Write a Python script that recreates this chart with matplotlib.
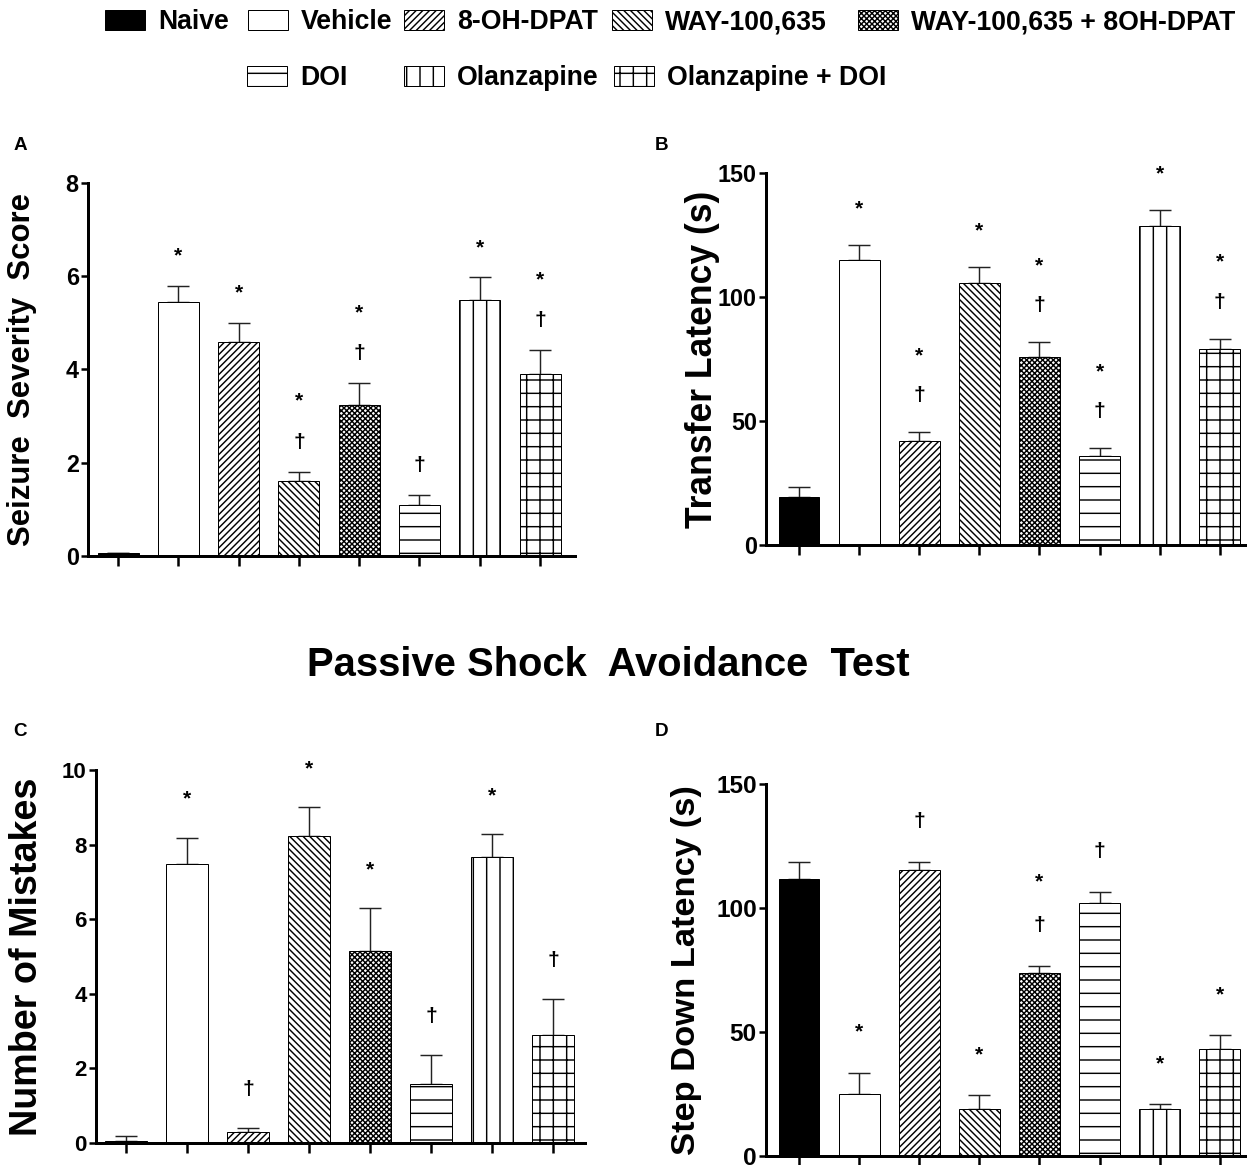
import numpy as np
import matplotlib
matplotlib.use("Agg")
import matplotlib.pyplot as plt
from matplotlib.patches import Patch

# ---------------- data ----------------
groups = ["Naive", "Vehicle", "8-OH-DPAT", "WAY-100,635",
          "WAY-100,635 + 8OH-DPAT", "DOI", "Olanzapine", "Olanzapine + DOI"]

seizure_mean = [0.07, 5.45, 4.6, 1.6, 3.23, 1.1, 5.5, 3.9]
seizure_sem = [0.0, 0.35, 0.4, 0.21, 0.47, 0.21, 0.48, 0.52]
seizure_sig = ["", "*", "*", "*†", "*†", "†", "*", "*†"]

transfer_mean = [19.2, 115.0, 42.1, 105.7, 75.8, 36.0, 128.6, 79.0]
transfer_sem = [4.1, 6.0, 3.5, 6.2, 6.0, 3.1, 6.4, 4.2]
transfer_sig = ["", "*", "*†", "*", "*†", "*†", "*", "*†"]

mistakes_mean = [0.06, 7.47, 0.3, 8.24, 5.14, 1.58, 7.68, 2.9]
mistakes_sem = [0.12, 0.72, 0.11, 0.77, 1.15, 0.78, 0.6, 0.96]
mistakes_sig = ["", "*", "†", "*", "*", "†", "*", "†"]

stepdown_mean = [111.8, 25.2, 115.2, 18.8, 73.6, 101.9, 18.8, 43.0]
stepdown_sem = [6.6, 8.4, 3.2, 5.6, 3.2, 4.7, 2.0, 5.6]
stepdown_sig = ["", "*", "†", "*", "*†", "†", "*", "*"]

# ---------------- style ----------------
DPI = 80
PT = 72.0 / DPI  # points per pixel
FONT = ["Liberation Sans", "DejaVu Sans"]
plt.rcParams["hatch.linewidth"] = 1.3
plt.rcParams["font.family"] = FONT

facecolors = ["black", "white", "white", "white", "white", "white", "white", "white"]
hatches = [None, None, "////", "\\\\\\\\", "xxxxx", "-", "|", "+"]

fig = plt.figure(figsize=(1257 / DPI, 1165 / DPI), dpi=DPI)
W, H = 1257.0, 1165.0


def axes_px(left, right, top, bottom):
    return fig.add_axes([left / W, 1 - bottom / H, (right - left) / W, (bottom - top) / H])


panels = [
    dict(box=(88, 575, 183, 556), mean=seizure_mean, sem=seizure_sem, sig=seizure_sig,
         ylim=8, yticks=[0, 2, 4, 6, 8], xlim=(-0.5, 7.58),
         ylabel="Seizure  Severity  Score", ylfs=28, tfs=21, lab_x=-0.135,
         off=(24, 65), letter="A", lpos=(20, 145)),
    dict(box=(766, 1245, 173, 545), mean=transfer_mean, sem=transfer_sem, sig=transfer_sig,
         ylim=150, yticks=[0, 50, 100, 150], xlim=(-0.55, 7.42),
         ylabel="Transfer Latency (s)", ylfs=32, tfs=21, lab_x=-0.133,
         off=(31, 71), letter="B", lpos=(662, 145)),
    dict(box=(96, 585, 770, 1143), mean=mistakes_mean, sem=mistakes_sem, sig=mistakes_sig,
         ylim=10, yticks=[0, 2, 4, 6, 8, 10], xlim=(-0.49, 7.52),
         ylabel="Number of Mistakes", ylfs=34, tfs=20, lab_x=-0.141,
         off=(33, 73), letter="C", lpos=(20, 732)),
    dict(box=(766, 1245, 784, 1156), mean=stepdown_mean, sem=stepdown_sem, sig=stepdown_sig,
         ylim=150, yticks=[0, 50, 100, 150], xlim=(-0.55, 7.42),
         ylabel="Step Down Latency (s)", ylfs=31, tfs=22, lab_x=-0.167,
         off=(35, 78), letter="D", lpos=(662, 732)),
]

x = np.arange(len(groups))
for p in panels:
    ax = axes_px(*p["box"])
    mean = np.array(p["mean"])
    sem = np.array(p["sem"])
    ax.errorbar(x, mean, yerr=[np.zeros_like(sem), sem], fmt="none",
                ecolor="#222222", elinewidth=1.3, capsize=11 * PT, capthick=1.3, zorder=1)
    bars = ax.bar(x, mean, width=0.68, color=facecolors, edgecolor="black",
                  linewidth=0.9, zorder=2)
    for b, h in zip(bars, hatches):
        if h:
            b.set_hatch(h)
    # significance markers: dagger lower, asterisk upper
    for xi, top, s in zip(x, mean + sem, p["sig"]):
        syms = list(s)[::-1]
        for k, sym in enumerate(syms):
            ax.annotate(sym, xy=(xi, top), xytext=(0, p["off"][k] * PT),
                        textcoords="offset points", ha="center", va="baseline",
                        fontsize=19, fontweight="bold", zorder=3)
    ax.set_xlim(*p["xlim"])
    ax.set_ylim(0, p["ylim"])
    ax.set_yticks(p["yticks"])
    ax.set_yticklabels([str(t) for t in p["yticks"]], fontweight="bold",
                       fontsize=p["tfs"])
    ax.set_xticks(x)
    ax.set_xticklabels([])
    for side in ("top", "right"):
        ax.spines[side].set_visible(False)
    for side in ("left", "bottom"):
        ax.spines[side].set_linewidth(3 * PT)
    ax.tick_params(axis="y", length=7 * PT, width=2.5 * PT, pad=2)
    ax.tick_params(axis="x", length=10 * PT, width=2.5 * PT)
    ax.set_ylabel(p["ylabel"], fontsize=p["ylfs"], fontweight="bold", va="center")
    ax.yaxis.set_label_coords(p["lab_x"], 0.5)
    fig.text(p["lpos"][0] / W, 1 - p["lpos"][1] / H, p["letter"], ha="center",
             va="center", fontsize=17, fontweight="bold")

# title between rows
fig.text(608 / W, 1 - 665 / H, "Passive Shock  Avoidance  Test", ha="center",
         va="center", fontsize=36, fontweight="bold")

# legend: one entry per group, laid out in two rows
legend_pos = [(105, 22), (248, 22), (404, 22), (612, 22), (858, 22),
              (247, 78), (404, 78), (614, 78)]
for name, fc, h, (lx, ly) in zip(groups, facecolors, hatches, legend_pos):
    handle = Patch(facecolor=fc, edgecolor="black", hatch=h, linewidth=0.9)
    fig.legend(handles=[handle], labels=[name], loc="center left",
               bbox_to_anchor=(lx / W, 1 - ly / H), frameon=False,
               borderpad=0, borderaxespad=0, handlelength=1.5, handleheight=0.79,
               handletextpad=0.49, prop=dict(weight="bold", size=24))

fig.savefig("out.png", dpi=DPI)
